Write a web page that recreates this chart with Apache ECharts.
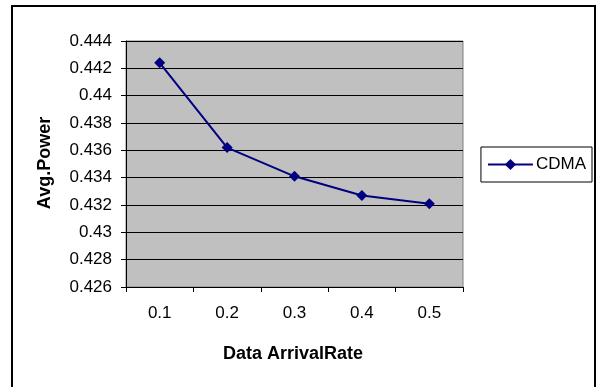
<!DOCTYPE html>
<html>
<head>
<meta charset="utf-8">
<script src="https://cdn.jsdelivr.net/npm/echarts@6/dist/echarts.min.js"></script>
<style>
html,body{margin:0;padding:0;background:#fff;}
#chart{width:598px;height:387px;}
</style>
</head>
<body>
<div id="chart"></div>
<script>
const categories = ['0.1', '0.2', '0.3', '0.4', '0.5'];
const cdmaValues = [0.4424, 0.4362, 0.4341, 0.4327, 0.4321];
const seriesName = 'CDMA';
const yMin = 0.426, yMax = 0.444, yStep = 0.002;
const xTitle = 'Data ArrivalRate';
const yTitle = 'Avg.Power';

const chart = echarts.init(document.getElementById('chart'), null, {renderer: 'canvas'});
const font = '"Liberation Sans", Arial, sans-serif';
chart.setOption({
  animation: false,
  backgroundColor: '#ffffff',
  grid: {left: 126, top: 41, right: 135, bottom: 100, show: true,
         backgroundColor: '#C0C0C0', borderColor: '#808080', borderWidth: 1},
  legend: {
    show: true, right: 6, top: 147, orient: 'vertical',
    data: [{name: seriesName}],
    itemWidth: 45, itemHeight: 14, itemGap: 0,
    padding: [9, 6, 9, 6],
    borderColor: '#000', borderWidth: 1, backgroundColor: '#fff',
    textStyle: {fontFamily: font, fontSize: 17, color: '#000', padding: [0, 0, 0, -2]}
  },
  xAxis: {
    type: 'category', data: categories, boundaryGap: true,
    axisLine: {lineStyle: {color: '#000', width: 1}},
    axisTick: {show: true, length: 5, alignWithLabel: false, lineStyle: {color: '#000'}},
    axisLabel: {fontFamily: font, fontSize: 17, color: '#000', margin: 18},
    splitLine: {show: false}
  },
  yAxis: {
    type: 'value', min: yMin, max: yMax, interval: yStep,
    axisLine: {show: true, lineStyle: {color: '#000', width: 1}},
    axisTick: {show: true, length: 5, lineStyle: {color: '#000'}},
    axisLabel: {fontFamily: font, fontSize: 17, color: '#000', margin: 14,
                formatter: v => String(parseFloat(v.toFixed(3)))},
    splitLine: {show: true, lineStyle: {color: '#000', width: 1}}
  },
  series: [{
    name: seriesName, type: 'line', data: cdmaValues,
    symbol: 'diamond', symbolSize: 11, showSymbol: true,
    lineStyle: {color: '#000080', width: 2},
    itemStyle: {color: '#000080'}
  }],
  graphic: [
    {type: 'rect', shape: {x: 12, y: 6, width: 583, height: 400}, silent: true, z: -10,
     style: {fill: null, stroke: '#000', lineWidth: 2}},
    {type: 'text', x: 293, y: 354, silent: true,
     style: {text: xTitle, font: 'bold 18px "Liberation Sans", Arial, sans-serif', fill: '#000',
             align: 'center', verticalAlign: 'middle'}},
    {type: 'text', x: 45, y: 163, rotation: Math.PI / 2, silent: true,
     style: {text: yTitle, font: 'bold 18px "Liberation Sans", Arial, sans-serif', fill: '#000',
             align: 'center', verticalAlign: 'middle'}}
  ]
});
</script>
</body>
</html>
